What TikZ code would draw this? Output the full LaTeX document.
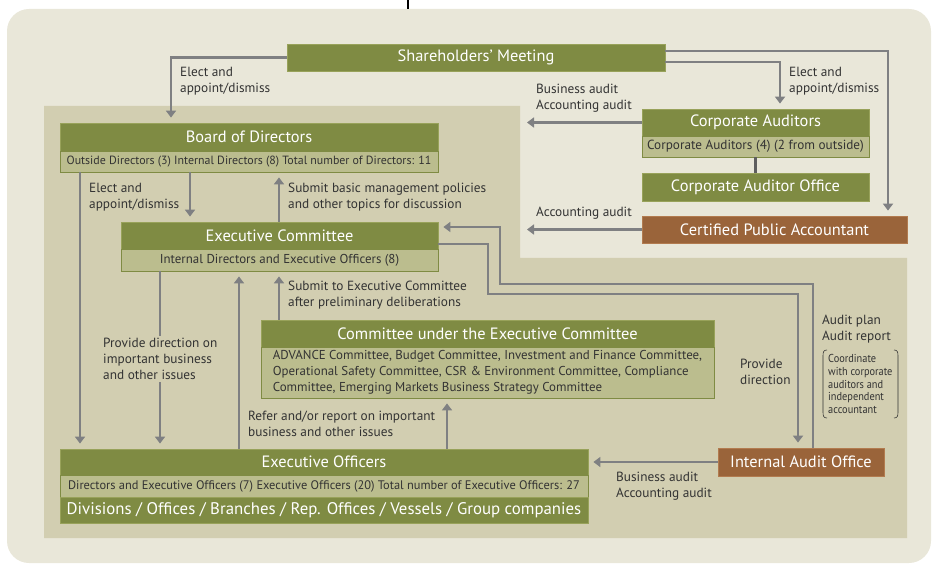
\documentclass[tikz,border=0pt]{standalone}
\usepackage{fontspec}
\setmainfont{PT Sans}
\newfontfamily\condensed[FakeStretch=0.9]{PT Sans}
\usetikzlibrary{arrows.meta}
\definecolor{outerbg}{HTML}{E9E7D9}
\definecolor{innerbg}{HTML}{D2CEB1}
\definecolor{olive}{HTML}{7F8B43}
\definecolor{oliveline}{HTML}{98A25A}
\definecolor{subfill}{HTML}{BBBD8E}
\definecolor{brownfill}{HTML}{9A643A}
\definecolor{brownline}{HTML}{B27B4F}
\definecolor{arrgray}{HTML}{7F8082}
\definecolor{linkgray}{HTML}{5E5E5E}
\definecolor{txt}{HTML}{333333}
\begin{document}
\begin{tikzpicture}[x=1pt,y=-1pt,
  titlebox/.style={fill=olive, draw=oliveline, line width=0.8pt, text=white,
    font=\fontsize{16.4}{18}\selectfont, inner sep=0pt},
  subbox/.style={fill=subfill, draw=olive, line width=0.8pt, text=txt,
    font=\fontsize{11.9}{13}\selectfont, inner sep=0pt},
  brownbox/.style={fill=brownfill, draw=brownline, line width=0.8pt, text=white,
    font=\fontsize{16.4}{18}\selectfont, inner sep=0pt},
  arr/.style={draw=arrgray, line width=2.8pt, -{Triangle[width=10pt,length=7pt]}, shorten >=5pt},
  lbl/.style={text=txt, font=\fontsize{13.3}{16}\selectfont, align=left, inner sep=0pt, anchor=west},
]
\useasboundingbox (0,0) rectangle (932,564);
% backgrounds
\fill[outerbg, rounded corners=22pt] (7,9) rectangle (931,563);
\fill[innerbg] (44,106) -- (520,106) -- (520,258) -- (907,258) -- (907,538) -- (44,538) -- cycle;
\draw[black, line width=1.2pt] (408,0) -- (408,9);

% nodes
\node[titlebox, minimum width=378pt, minimum height=27pt] (sm) at (476,57.5) {Shareholders’ Meeting};

\node[titlebox, minimum width=378pt, minimum height=28pt] (bod) at (249,137) {Board of Directors};
\node[subbox, minimum width=378pt, minimum height=21pt] (bods) at (249,161.5) {Outside Directors (3) Internal Directors (8) Total number of Directors: 11};

\node[titlebox, minimum width=317pt, minimum height=27pt] (ec) at (279.5,235.5) {Executive Committee};
\node[subbox, minimum width=317pt, minimum height=22pt, font=\fontsize{12.9}{14}\selectfont] (ecs) at (279.5,260) {Internal Directors and Executive Officers (8)};

\node[titlebox, minimum width=227pt, minimum height=27pt] (ca) at (755.5,122.5) {Corporate Auditors};
\node[subbox, minimum width=227pt, minimum height=21pt, font=\fontsize{13.2}{14}\selectfont] (cas) at (755.5,146.5) {Corporate Auditors (4) (2 from outside)};
\node[titlebox, minimum width=227pt, minimum height=28pt] (cao) at (755.5,187) {Corporate Auditor Office};
\node[brownbox, minimum width=265pt, minimum height=27pt] (cpa) at (774.5,229.5) {Certified Public Accountant};

\node[titlebox, minimum width=453pt, minimum height=27pt] (cu) at (487.5,333.5) {Committee under the Executive Committee};
\node[subbox, minimum width=453pt, minimum height=51pt, align=left,
  font=\fontsize{12.9}{16}\selectfont] (cus) at (487.5,372.5)
  {ADVANCE Committee, Budget Committee, Investment and Finance Committee,\\
   Operational Safety Committee, CSR \& Environment Committee, Compliance\\
   Committee, Emerging Markets Business Strategy Committee};

\node[titlebox, minimum width=528pt, minimum height=26pt] (eo) at (324,462) {Executive Officers};
\node[subbox, minimum width=528pt, minimum height=22pt, font=\fontsize{12.4}{13}\selectfont] (eos) at (324,486)
  {Directors and Executive Officers (7) Executive Officers (20) Total number of Executive Officers: 27};
\node[titlebox, minimum width=528pt, minimum height=26pt, font=\fontsize{16.8}{18}\selectfont] (eod) at (324,510)
  {Divisions / Offices / Branches / Rep. Offices / Vessels / Group companies};

\node[brownbox, minimum width=166pt, minimum height=28pt] (iao) at (801,462) {Internal Audit Office};

% helper coordinates
\coordinate (x80) at (80,0);
\coordinate (x160) at (160,0);
\coordinate (x171) at (171,0);
\coordinate (x190) at (190,0);
\coordinate (x239) at (239,0);
\coordinate (x279) at (279,0);
\coordinate (x447) at (447,0);
\coordinate (x488) at (488,0);
\coordinate (x500) at (500,0);
\coordinate (x780) at (780,0);
\coordinate (x798) at (798,0);
\coordinate (x813) at (813,0);
\coordinate (x888) at (888,0);
\coordinate (y51) at (0,51);
\coordinate (y62) at (0,62);
\coordinate (y227) at (0,227);
\coordinate (y244) at (0,244);
\coordinate (y284) at (0,284);
\coordinate (y294) at (0,294);
\coordinate (caend) at (522,122.5);
\coordinate (cpaend) at (522,229.5);

% connectors
\draw[arr] (sm.west) -| (bod.north -| x171);
\draw[arr] (sm.east |- y62) -| (ca.north -| x780);
\draw[arr] (sm.east |- y51) -| (cpa.north -| x888);
\draw[arr] (ca.west) -- (caend);
\draw[arr] (cpa.west) -- (cpaend);
\draw[draw=linkgray, line width=2.8pt] (cas.south) -- (cao.north);

\draw[arr] (bods.south -| x190) -- (ec.north -| x190);
\draw[arr] (ec.north -| x279) -- (bods.south -| x279);
\draw[arr] (bods.south -| x80) -- (eo.north -| x80);
\draw[arr] (ecs.south -| x160) -- (eo.north -| x160);
\draw[arr] (eo.north -| x239) -- (ecs.south -| x239);
\draw[arr] (cu.north -| x279) -- (ecs.south -| x279);
\draw[arr] (eo.north -| x447) -- (cus.south -| x447);
\draw[arr] (ec.east |- y244) -| (x488 |- y294) -| (iao.north -| x798);
\draw[arr] (iao.north -| x813) |- (x500 |- y284) |- (ec.east |- y227);
\draw[arr] (iao.west) -- (eo.east);

% labels
\node[lbl] (l1) at (180,81) {Elect and\\appoint/dismiss};
\node[lbl] (l2) at (789,81) {Elect and\\appoint/dismiss};
\node[lbl] (l3) at (536,98) {Business audit\\Accounting audit};
\node[lbl] (l4) at (536,213) {Accounting audit};
\node[lbl] (l5) at (89,197) {Elect and\\appoint/dismiss};
\node[lbl] (l6) at (288,197) {Submit basic management policies\\and other topics for discussion};
\node[lbl, fill=innerbg, inner ysep=2pt] (l7) at (103,359) {Provide direction on\\important business\\and other issues};
\node[lbl] (l8) at (288,295) {Submit to Executive Committee\\after preliminary deliberations};
\node[lbl] (l9) at (248,424) {Refer and/or report on important\\business and other issues};
\node[lbl] (l10) at (740,372) {Provide\\direction};
\node[lbl] (l11) at (822,329) {Audit plan\\Audit report};
\node[lbl, font=\condensed\fontsize{11.5}{12.7}\selectfont] (note) at (828,384)
  {Coordinate\\with corporate\\auditors and\\independent\\accountant};
\node[lbl] (l13) at (616,486) {Business audit\\Accounting audit};

% bracket around note
\draw[txt, line width=0.6pt] (827,350) .. controls (823.5,350) and (823,352) .. (823,356) -- (823,412) .. controls (823,416) and (823.5,418) .. (827,418);
\draw[txt, line width=0.6pt] (894,350) .. controls (897.5,350) and (898,352) .. (898,356) -- (898,412) .. controls (898,416) and (897.5,418) .. (894,418);
\end{tikzpicture}
\end{document}
